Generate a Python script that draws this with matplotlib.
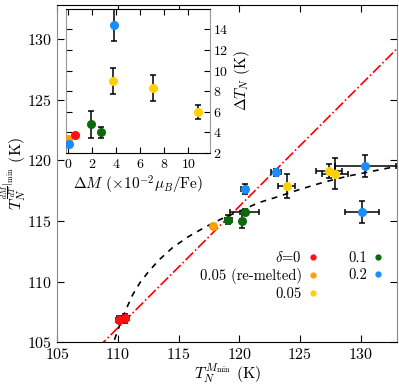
import numpy as np
import matplotlib
matplotlib.use('Agg')
import matplotlib.pyplot as plt
from matplotlib.lines import Line2D

plt.rcParams['font.family'] = 'serif'
plt.rcParams['font.serif'] = ['cmr10']
plt.rcParams['mathtext.fontset'] = 'cm'
plt.rcParams['axes.formatter.use_mathtext'] = True

# main panel: T_N from M_min vs T_N from dM/dT min
red_x = [110.1, 110.6]
red_y = [106.85, 106.95]
red_xerr = [0.3, 0.3]
red_yerr = [0.3, 0.35]

orange_x = [117.8]
orange_y = [114.55]

green_x = [119.1, 120.45, 120.25]
green_y = [115.1, 115.75, 115.0]
green_xerr = [0.3, 1.2, 0.2]
green_yerr = [0.35, 0.2, 0.6]

yellow_x = [123.9, 127.4, 127.9]
yellow_y = [117.9, 119.1, 118.9]
yellow_xerr = [0.7, 1.05, 1.1]
yellow_yerr = [1.0, 0.55, 1.3]

blue_x = [120.45, 123.05, 130.4, 130.1]
blue_y = [117.6, 119.0, 119.5, 115.7]
blue_xerr = [0.3, 0.4, 2.5, 1.4]
blue_yerr = [0.4, 0.3, 0.9, 0.9]

# red dash-dot line and black dashed guide
line_x = [105, 133]
line_y = [101.2, 129.2]
curve_x = [109.7, 110.2, 110.7, 111.2, 111.8, 112.5, 113.4, 114.5, 115.8, 117.2,
           118.6, 120.0, 121.6, 123.2, 125.0, 127.0, 129.0, 131.0, 133.0]
curve_y = [105.2, 106.6, 107.8, 108.9, 109.9, 110.8, 111.8, 112.8, 113.7, 114.5,
           115.2, 115.8, 116.5, 117.0, 117.6, 118.2, 118.7, 119.1, 119.5]

# inset: Delta T_N vs Delta M
in_red_x = [0.6]
in_red_y = [3.7]
in_orange_x = [0.0]
in_orange_y = [3.35]
in_blue_x = [0.05, 3.85]
in_blue_y = [2.9, 14.4]
in_blue_err = [0.3, 1.55]
in_green_x = [1.9, 2.75]
in_green_y = [4.8, 4.0]
in_green_err = [1.3, 0.5]
in_yellow_x = [3.7, 7.1, 10.8]
in_yellow_y = [9.0, 8.3, 6.0]
in_yellow_err = [1.3, 1.25, 0.7]

c_red = '#ff1010'
c_orange = '#ffa000'
c_yellow = '#ffd000'
c_green = '#0b6a0b'
c_blue = '#1a8cff'

labels = [r'$\delta$=0', '0.05 (re-melted)', '0.05', '0.1', '0.2']
colors = [c_red, c_orange, c_yellow, c_green, c_blue]

fig = plt.figure(figsize=(3.99, 3.84), dpi=100)
ax = fig.add_axes([0.144, 0.109, 0.851, 0.878])

ax.plot(line_x, line_y, color='red', ls='-.', lw=1.2, zorder=1)
ax.plot(curve_x, curve_y, color='black', ls=(0, (3.5, 3.5)), lw=1.2, zorder=1)

ekw = dict(fmt='o', ms=5.5, ecolor='black', elinewidth=1.1, capsize=2.5, capthick=1.1, zorder=3)
ax.errorbar(red_x, red_y, xerr=red_xerr, yerr=red_yerr, color=c_red, **ekw)
ax.plot(orange_x, orange_y, 'o', ms=5.5, color=c_orange, zorder=3)
ax.errorbar(green_x, green_y, xerr=green_xerr, yerr=green_yerr, color=c_green, **ekw)
ax.errorbar(yellow_x, yellow_y, xerr=yellow_xerr, yerr=yellow_yerr, color=c_yellow, **ekw)
ax.errorbar(blue_x, blue_y, xerr=blue_xerr, yerr=blue_yerr, color=c_blue, **ekw)

ax.set_xlim(105, 133)
ax.set_ylim(105, 132.8)
ax.set_xticks([105, 110, 115, 120, 125, 130])
ax.set_yticks([105, 110, 115, 120, 125, 130])
ax.tick_params(direction='in', top=True, right=True, length=5, labelsize=11.5)
ax.spines['left'].set_color('#888888')
ax.spines['right'].set_color('#888888')
ax.set_xlabel(r'$T_N^{M_{\min}}$ (K)', fontsize=11.5, labelpad=-1)
ax.set_ylabel(r'$T_N^{\frac{dM}{dT}|_{\min}}$ (K)', fontsize=11.5, labelpad=-1.5)

handles = [Line2D([], [], marker='o', ls='none', ms=3.5, color=c) for c in colors]
ax.legend(handles, labels, ncol=2, markerfirst=False, frameon=False, fontsize=10.5,
          handlelength=0.5, handletextpad=0.5, columnspacing=2.2, labelspacing=0.2,
          loc='upper right', bbox_to_anchor=(0.973, 0.29), borderaxespad=0)

ins = fig.add_axes([0.165, 0.6016, 0.361, 0.3754])
ins.errorbar(in_blue_x, in_blue_y, yerr=in_blue_err, color=c_blue, **ekw)
ins.plot(in_orange_x, in_orange_y, 'o', ms=5.5, color=c_orange, zorder=3)
ins.plot(in_red_x, in_red_y, 'o', ms=5.5, color=c_red, zorder=3)
ins.errorbar(in_green_x, in_green_y, yerr=in_green_err, color=c_green, **ekw)
ins.errorbar(in_yellow_x, in_yellow_y, yerr=in_yellow_err, color=c_yellow, **ekw)
ins.set_xlim(-0.2, 11.8)
ins.set_ylim(2, 16)
ins.set_xticks([0, 2, 4, 6, 8, 10])
ins.set_yticks([2, 4, 6, 8, 10, 12, 14])
ins.yaxis.tick_right()
ins.yaxis.set_label_position('right')
ins.tick_params(direction='in', top=True, left=True, right=True, length=4, labelsize=10)
ins.tick_params(axis='y', labelleft=False, labelright=True, pad=2)
ins.spines['left'].set_color('#999999')
ins.spines['right'].set_color('#999999')
ins.set_xlabel(r'$\Delta M$ ($\times10^{-2}\mu_B$/Fe)', fontsize=11, labelpad=2)
ins.set_ylabel(r'$\Delta T_N$ (K)', fontsize=11, labelpad=3)

fig.savefig('out.png', dpi=100)
